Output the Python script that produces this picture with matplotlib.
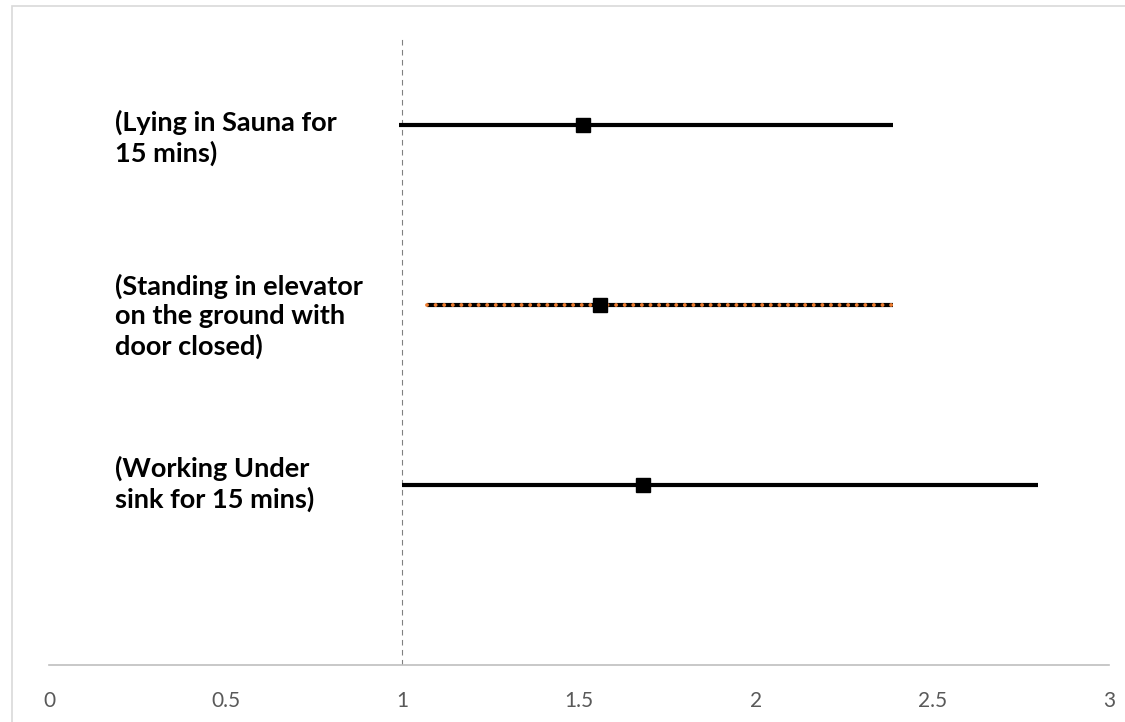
import matplotlib.pyplot as plt
import matplotlib.transforms as mtransforms
from matplotlib.patches import Rectangle

# Data: estimate with lower / upper bound, one row per exposure
labels = ['(Lying in Sauna for\n15 mins)',
          '(Standing in elevator\non the ground with\ndoor closed)',
          '(Working Under\nsink for 15 mins)']
rows = [3, 2, 1]
estimate = [1.51, 1.56, 1.68]
lower = [0.99, 1.07, 1.00]
upper = [2.39, 2.39, 2.80]
line_colors = ['black', 'black', 'black']
dot_overlay = [False, True, False]

ref_x = 1.0
ref_top = 3.5
xticks = [0, 0.5, 1, 1.5, 2, 2.5, 3]
xtick_labels = ['0', '0.5', '1', '1.5', '2', '2.5', '3']

# label centre shift in pixels (down is positive)
label_shift_px = [13, 11, -1]

plt.rcParams['font.family'] = ['Lato', 'DejaVu Sans']

fig = plt.figure(figsize=(11.25, 7.22), dpi=100)
ax = fig.add_axes([49 / 1125, 1 - 665 / 722, 1060 / 1125, 630 / 722])

# outer chart border
fig.patches.append(Rectangle((12 / 1125, -0.01), 1.0, 1 - 6 / 722 + 0.01,
                             transform=fig.transFigure, fill=False,
                             edgecolor='#D9D9D9', lw=1.2, zorder=0))

# reference line at 1
ax.plot([ref_x, ref_x], [0, ref_top], color='#808080', lw=0.8,
        linestyle=(0, (5, 4)), zorder=1)

for i in range(len(rows)):
    ax.plot([lower[i], upper[i]], [rows[i], rows[i]], color=line_colors[i],
            lw=3, solid_capstyle='butt', zorder=2)
    if dot_overlay[i]:
        ax.plot([lower[i], upper[i]], [rows[i], rows[i]], color='#ED7D31',
                lw=2.8, linestyle=(0, (0.01, 2.2)), dash_capstyle='round',
                zorder=3)
    ax.plot(estimate[i], rows[i], marker='s', color='black', markersize=10,
            zorder=4)

for i in range(len(rows)):
    offset = mtransforms.ScaledTranslation(0, -label_shift_px[i] / 100,
                                           fig.dpi_scale_trans)
    ax.text(0.187, rows[i], labels[i], ha='left', va='center',
            fontsize=19.5, fontweight='bold', linespacing=1.26,
            transform=ax.transData + offset)

ax.set_xlim(0, 3)
ax.set_ylim(0, ref_top)
ax.set_xticks(xticks)
ax.set_xticklabels(xtick_labels)
ax.set_yticks([])
ax.tick_params(axis='x', length=0, pad=19, labelsize=15, labelcolor='#595959')
for side in ['top', 'right', 'left']:
    ax.spines[side].set_visible(False)
ax.spines['bottom'].set_color('#BFBFBF')
ax.spines['bottom'].set_linewidth(1.2)

fig.savefig('out.png', dpi=100)
